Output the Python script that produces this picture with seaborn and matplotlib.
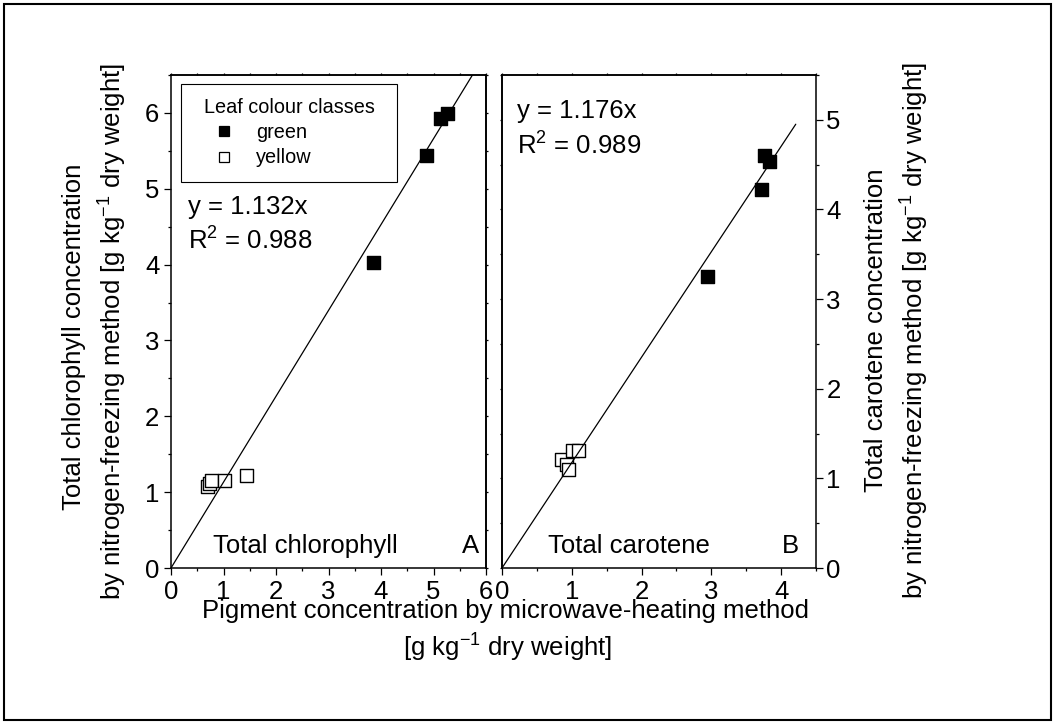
import matplotlib
matplotlib.use("Agg")
import matplotlib.pyplot as plt
from matplotlib.lines import Line2D
from matplotlib.patches import Rectangle
from matplotlib.ticker import MultipleLocator, NullFormatter
import numpy as np
import pandas as pd
import seaborn as sns

# ---- data (g kg-1 dry weight) ----
# Panel A: total chlorophyll, microwave-heating (x) vs nitrogen-freezing (y)
chl_green_mw = [3.86, 4.87, 5.14, 5.26]
chl_green_nf = [4.03, 5.44, 5.93, 5.99]
chl_yellow_mw = [0.70, 0.74, 0.78, 1.01, 1.44]
chl_yellow_nf = [1.08, 1.12, 1.16, 1.15, 1.22]

# Panel B: total carotene
car_green_mw = [2.95, 3.72, 3.76, 3.83]
car_green_nf = [3.25, 4.22, 4.60, 4.54]
car_yellow_mw = [0.86, 0.93, 0.95, 1.01, 1.10]
car_yellow_nf = [1.21, 1.15, 1.10, 1.31, 1.31]

# regression through the origin
chl_slope, chl_r2 = 1.132, 0.988
car_slope, car_r2 = 1.176, 0.989
chl_fit_x = [0.0, 6.0]
car_fit_x = [0.0, 4.21]

leaf_classes = ["green", "yellow"]
class_face = {"green": "black", "yellow": "white"}

sns.set_theme(style="white")
plt.rcParams["font.family"] = ["Liberation Sans", "DejaVu Sans"]
plt.rcParams["mathtext.fontset"] = "custom"
plt.rcParams["mathtext.rm"] = "Liberation Sans"
plt.rcParams["mathtext.it"] = "Liberation Sans:italic"
plt.rcParams["mathtext.bf"] = "Liberation Sans:bold"
for key in ["text.color", "axes.labelcolor", "xtick.color", "ytick.color",
            "axes.edgecolor", "legend.labelcolor"]:
    plt.rcParams[key] = "black"

FS = 18.5
W, H = 1055, 724
fig = plt.figure(figsize=(W / 100, H / 100), dpi=100, facecolor="white")


def frame(px_left, px_right, px_top, px_bottom):
    return [px_left / W, 1 - px_bottom / H, (px_right - px_left) / W, (px_bottom - px_top) / H]


axA = fig.add_axes(frame(171, 486, 75, 568))
axB = fig.add_axes(frame(502, 816, 75, 568))


def points_frame(g_x, g_y, y_x, y_y):
    return pd.DataFrame({
        "mw": list(g_x) + list(y_x),
        "nf": list(g_y) + list(y_y),
        "leaf": ["green"] * len(g_x) + ["yellow"] * len(y_x),
    })


dfA = points_frame(chl_green_mw, chl_green_nf, chl_yellow_mw, chl_yellow_nf)
dfB = points_frame(car_green_mw, car_green_nf, car_yellow_mw, car_yellow_nf)

for ax, df, slope, fx in [(axA, dfA, chl_slope, chl_fit_x), (axB, dfB, car_slope, car_fit_x)]:
    sns.scatterplot(data=df, x="mw", y="nf", hue="leaf", hue_order=leaf_classes,
                    palette=class_face, marker="s", s=88, edgecolor="black",
                    linewidth=1.0, legend=False, ax=ax, zorder=3)
    fit = pd.DataFrame({"mw": fx, "nf": [slope * v for v in fx]})
    sns.lineplot(data=fit, x="mw", y="nf", color="black", linewidth=0.9, ax=ax, zorder=4)
    ax.set_xlabel("")
    ax.set_ylabel("")
    for sp in ax.spines.values():
        sp.set_visible(True)
        sp.set_color("black")
        sp.set_linewidth(1.1)
    ax.xaxis.set_major_locator(MultipleLocator(1))
    ax.xaxis.set_minor_locator(MultipleLocator(0.5))
    ax.yaxis.set_major_locator(MultipleLocator(1))
    ax.yaxis.set_minor_locator(MultipleLocator(0.5))
    ax.tick_params(axis="both", which="major", length=5, width=0.9, color="black",
                   labelsize=FS, labelcolor="black", pad=3.4)
    ax.tick_params(axis="both", which="minor", length=2.5, width=0.9, color="black")
    ax.tick_params(axis="x", which="both", bottom=True, top=False, direction="out")
    # light ticks on the top edge
    sec = ax.secondary_xaxis("top")
    sec.xaxis.set_major_locator(MultipleLocator(0.5))
    sec.tick_params(which="major", length=1.5, width=0.9, direction="out", labeltop=False)
    sec.spines["top"].set_linewidth(1.1)

axA.set_xlim(0, 6)
axA.set_ylim(0, 6.5)
axB.set_xlim(0, 4.5)
axB.set_ylim(0, 5.5)

axA.tick_params(axis="y", which="both", left=True, right=False, direction="out")
axB.yaxis.tick_right()
axB.tick_params(axis="y", which="both", left=False, right=True, direction="out",
                labelright=True, labelleft=False)
axB.tick_params(axis="y", which="major", pad=2.5)

# small ticks on the inner edges between the panels
secA = axA.secondary_yaxis("right")
secA.yaxis.set_major_locator(MultipleLocator(0.5))
secA.yaxis.set_major_formatter(NullFormatter())
secA.tick_params(which="major", length=1.5, width=0.9, direction="out")
secB = axB.secondary_yaxis("left")
secB.yaxis.set_major_locator(MultipleLocator(0.5))
secB.yaxis.set_major_formatter(NullFormatter())
secB.tick_params(which="major", length=1.5, width=0.9, direction="out")

axA.set_xticks(range(0, 7))
axA.set_xticklabels([str(v) for v in range(0, 7)])
axB.set_xticks(range(0, 5))
axB.set_xticklabels([str(v) for v in range(0, 5)])

# equations and panel captions
axA.text(0.054, 0.718, f"y = {chl_slope:.3f}x", transform=axA.transAxes,
         fontsize=FS, va="baseline", ha="left")
axA.text(0.054, 0.645, f"R$^2$ = {chl_r2:.3f}", transform=axA.transAxes,
         fontsize=FS, va="baseline", ha="left")
axA.text(0.134, 0.030, "Total chlorophyll", transform=axA.transAxes,
         fontsize=FS, va="baseline", ha="left")
axA.text(0.977, 0.030, "A", transform=axA.transAxes,
         fontsize=FS, va="baseline", ha="right")

axB.text(0.047, 0.912, f"y = {car_slope:.3f}x", transform=axB.transAxes,
         fontsize=FS, va="baseline", ha="left")
axB.text(0.047, 0.838, f"R$^2$ = {car_r2:.3f}", transform=axB.transAxes,
         fontsize=FS, va="baseline", ha="left")
axB.text(0.147, 0.030, "Total carotene", transform=axB.transAxes,
         fontsize=FS, va="baseline", ha="left")
axB.text(0.946, 0.030, "B", transform=axB.transAxes,
         fontsize=FS, va="baseline", ha="right")

# legend
handles = [Line2D([], [], marker="s", ls="none", markersize=7.4,
                  markerfacecolor=class_face[c], markeredgecolor="black",
                  markeredgewidth=0.9) for c in leaf_classes]
leg_w = (397 - 171) / 315 - 0.032
leg = axA.legend(handles, leaf_classes, title="Leaf colour classes",
                 loc="upper left", bbox_to_anchor=(0.032, 0.5, leg_w, 0.482),
                 mode="expand", borderaxespad=0,
                 fontsize=14.3, title_fontsize=14.3, frameon=True, fancybox=False,
                 shadow=False, framealpha=1, edgecolor="black",
                 borderpad=0.72, labelspacing=0.31, handlelength=2.9,
                 handletextpad=0.15)
leg.get_frame().set_linewidth(0.8)

# axis titles
def fig_text(px_x, px_y, s, **kw):
    fig.text(px_x / W, 1 - px_y / H, s, fontsize=FS, color="black", **kw)


fig_text(74, 337, "Total chlorophyll concentration", rotation=90, ha="center", va="center")
fig_text(113, 332, "by nitrogen-freezing method [g kg$^{-1}$ dry weight]",
         rotation=90, ha="center", va="center")
fig_text(876, 330, "Total carotene concentration", rotation=90, ha="center", va="center")
fig_text(915, 331, "by nitrogen-freezing method [g kg$^{-1}$ dry weight]",
         rotation=90, ha="center", va="center")
fig_text(505, 618, "Pigment concentration by microwave-heating method",
         ha="center", va="baseline")
fig_text(508, 657, "[g kg$^{-1}$ dry weight]", ha="center", va="baseline")

# outer frame
fig.patches.append(Rectangle((4 / W, 4 / H), 1047 / W, 716 / H, transform=fig.transFigure,
                             fill=False, edgecolor="black", linewidth=1.5))

fig.savefig("out.png", dpi=100, facecolor="white")
